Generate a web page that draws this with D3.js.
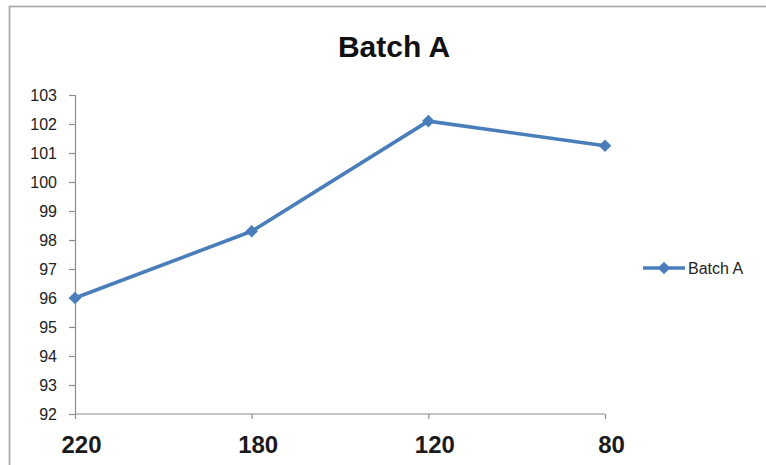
<!DOCTYPE html>
<html>
<head>
<meta charset="utf-8">
<script src="https://cdn.jsdelivr.net/npm/d3@7"></script>
<style>
  html, body { margin: 0; padding: 0; background: #fff; }
  svg { display: block; }
</style>
</head>
<body>
<svg id="chart" width="766" height="465"></svg>
<script>
// Chart data
const categories = ["220", "180", "120", "80"];
const seriesName = "Batch A";
const values = [96, 98.3, 102.1, 101.25];
const yTicks = [92, 93, 94, 95, 96, 97, 98, 99, 100, 101, 102, 103];

const svg = d3.select("#chart");
const W = 766, H = 465;
const lineColor = "#4a7ebb";
const axisColor = "#8c8c8c";

// Outer chart frame (continues past the right and bottom edges)
svg.append("rect")
  .attr("x", 9.5).attr("y", 6.5)
  .attr("width", W + 20).attr("height", H + 20)
  .attr("fill", "#fff")
  .attr("stroke", "#a6a6a6")
  .attr("stroke-width", 1.6);

// Title
svg.append("text")
  .attr("x", 394).attr("y", 57)
  .attr("text-anchor", "middle")
  .attr("font-family", "Liberation Sans, Arial, sans-serif")
  .attr("font-weight", "bold")
  .attr("font-size", 30)
  .attr("fill", "#111")
  .text(seriesName);

// Scales
const x = d3.scalePoint().domain(categories).range([75, 605]);
const y = d3.scaleLinear().domain([92, 103]).range([414, 95]);

// Y axis
const yAxis = svg.append("g")
  .attr("transform", "translate(75,0)")
  .call(d3.axisLeft(y).tickValues(yTicks).tickSize(6).tickPadding(12).tickFormat(d3.format("d")));
yAxis.select(".domain").attr("stroke", axisColor).attr("stroke-width", 1.2);
yAxis.selectAll(".tick line").attr("stroke", axisColor).attr("stroke-width", 1.2);
yAxis.selectAll(".tick text")
  .attr("font-family", "Liberation Sans, Arial, sans-serif")
  .attr("font-size", 16)
  .attr("fill", "#222");

// X axis
const xAxis = svg.append("g")
  .attr("transform", "translate(0,414)")
  .call(d3.axisBottom(x).tickSizeInner(5).tickSizeOuter(0).tickPadding(17));
xAxis.select(".domain").attr("stroke", axisColor).attr("stroke-width", 1.2)
  .attr("d", `M${x.range()[0]},0H${x.range()[1]}`);
xAxis.selectAll(".tick line").attr("stroke", axisColor).attr("stroke-width", 1.2);
xAxis.selectAll(".tick text")
  .attr("dx", 6)
  .attr("font-family", "Liberation Sans, Arial, sans-serif")
  .attr("font-weight", "bold")
  .attr("font-size", 24)
  .attr("fill", "#1a1a1a");

// Series line
const line = d3.line()
  .x((d, i) => x(categories[i]))
  .y(d => y(d));

svg.append("path")
  .datum(values)
  .attr("d", line)
  .attr("fill", "none")
  .attr("stroke", lineColor)
  .attr("stroke-width", 3.6)
  .attr("stroke-linejoin", "round");

// Diamond markers: squares turned 45 degrees
const diamond = d3.symbol().type(d3.symbolSquare).size(80);
svg.selectAll(".marker")
  .data(values)
  .join("path")
  .attr("class", "marker")
  .attr("d", diamond)
  .attr("transform", (d, i) => `translate(${x(categories[i])},${y(d)}) rotate(45)`)
  .attr("fill", lineColor);

// Legend
const legend = svg.append("g").attr("transform", "translate(643,268)");
legend.append("line")
  .attr("x1", 0).attr("x2", 42)
  .attr("stroke", lineColor).attr("stroke-width", 3.6);
legend.append("path")
  .attr("d", diamond)
  .attr("transform", "translate(21,0) rotate(45)")
  .attr("fill", lineColor);
legend.append("text")
  .attr("x", 45).attr("y", 6)
  .attr("font-family", "Liberation Sans, Arial, sans-serif")
  .attr("font-size", 16)
  .attr("fill", "#222")
  .text(seriesName);
</script>
</body>
</html>
